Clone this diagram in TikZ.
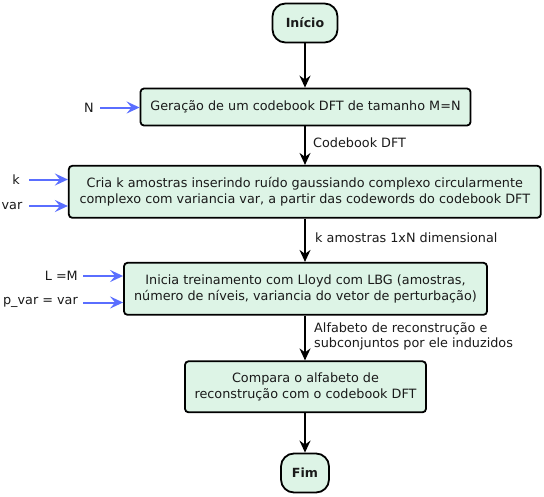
\documentclass[tikz,border=0pt]{standalone}
\usepackage{fontspec}
\setmainfont{DejaVu Sans}
\usetikzlibrary{arrows.meta}
\definecolor{boxfill}{HTML}{DDF4E6}
\definecolor{inblue}{HTML}{5A6EFF}
\definecolor{txt}{HTML}{1A1A1A}
\tikzset{
  stepbox/.style={draw=black, line width=1.8pt, fill=boxfill, rounded corners=3.5pt, align=center, inner sep=0pt, text=txt, font=\fontsize{12.8}{15.8}\selectfont},
  termbox/.style={draw=black, line width=1.8pt, fill=boxfill, rounded corners=13pt, align=center, inner sep=0pt, text=txt, font=\fontsize{12.6}{15.8}\selectfont\bfseries},
  flow/.style={draw=black, line width=1.8pt, -{Stealth[length=12pt,width=11pt,inset=4pt]}},
  inarrow/.style={draw=inblue, line width=2pt, -{Stealth[length=13pt,width=12pt,inset=5pt]}},
  lbl/.style={text=txt, inner sep=0pt, font=\fontsize{12.8}{15.5}\selectfont, align=left},
}
\begin{document}
\begin{tikzpicture}[x=1pt,y=-1pt]
\useasboundingbox (0,0) rectangle (544,496);
% main boxes
\node[termbox, minimum width=65pt, minimum height=39pt] (ini) at (305,23) {Início};
\node[stepbox, minimum width=330pt, minimum height=37pt] (b1) at (305.5,107) {Geração de um codebook DFT de tamanho M=N};
\node[stepbox, minimum width=472pt, minimum height=52pt] (b2) at (304.8,191.8) {Cria k amostras inserindo ruído gaussiando complexo circularmente\\complexo com variancia var, a partir das codewords do codebook DFT};
\node[stepbox, minimum width=363pt, minimum height=52pt] (b3) at (305.5,288.8) {Inicia treinamento com Lloyd com LBG (amostras,\\número de níveis, variancia do vetor de perturbação)};
\node[stepbox, minimum width=241pt, minimum height=51pt] (b4) at (305.5,386.8) {Compara o alfabeto de\\reconstrução com o codebook DFT};
\node[termbox, minimum width=48pt, minimum height=39pt] (fim) at (305,473) {Fim};
% flow arrows
\draw[flow] (ini.south) -- (ini.south |- b1.north);
\draw[flow] (b1.south -| ini.south) -- (b2.north -| ini.south);
\draw[flow] (b2.south -| ini.south) -- (b3.north -| ini.south);
\draw[flow] (b3.south -| ini.south) -- (b4.north -| ini.south);
\draw[flow] (b4.south -| ini.south) -- (fim.north);
% flow labels
\node[lbl, anchor=west] (l1) at (313,143) {Codebook DFT};
\node[lbl, anchor=west] (l2) at (315,238) {k amostras 1xN dimensional};
\node[lbl, anchor=west] (l3) at (314,336.5) {Alfabeto de reconstrução e\\subconjuntos por ele induzidos};
% inputs
\node[lbl] (iN) at (89,107.5) {N};
\coordinate (sN) at (100,107.5);
\draw[inarrow] (sN) -- (sN -| b1.west);
\node[lbl] (ik) at (16,179.5) {k};
\coordinate (sk) at (29,179.5);
\draw[inarrow] (sk) -- (sk -| b2.west);
\node[lbl] (iv) at (12,206) {var};
\coordinate (sv) at (29,206);
\draw[inarrow] (sv) -- (sv -| b2.west);
\node[lbl, anchor=east] (iL) at (78,276) {L =M};
\coordinate (sL) at (83,276);
\draw[inarrow] (sL) -- (sL -| b3.west);
\node[lbl, anchor=east] (ip) at (78,302.5) {p\_var = var};
\coordinate (sp) at (83,302.5);
\draw[inarrow] (sp) -- (sp -| b3.west);
\end{tikzpicture}
\end{document}
